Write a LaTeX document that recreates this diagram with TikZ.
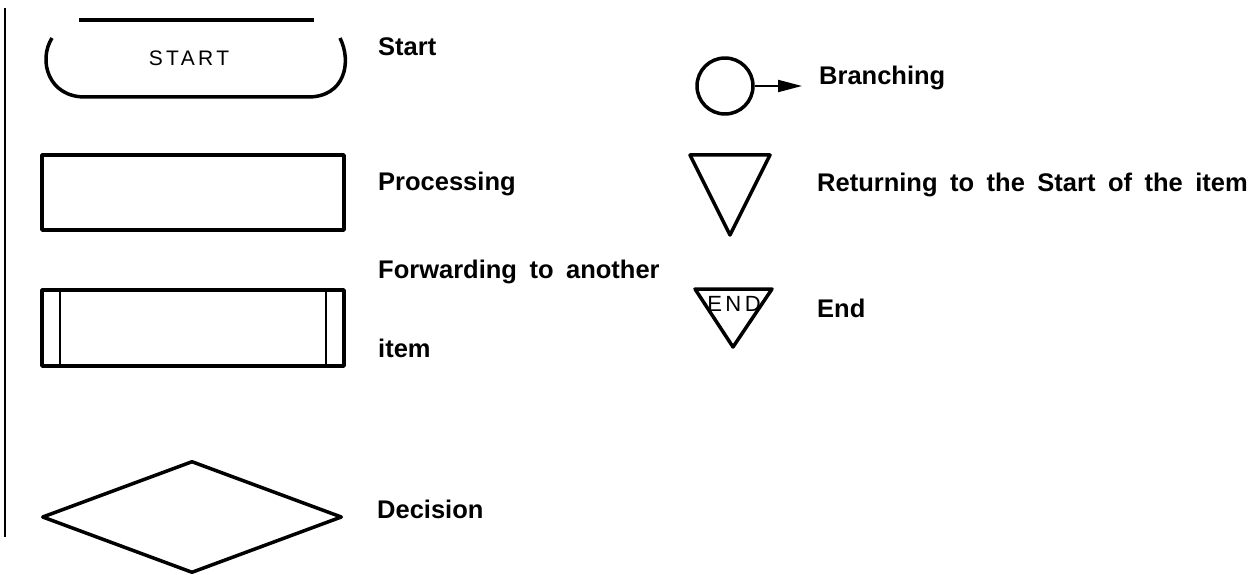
\documentclass[tikz,border=0pt]{standalone}
\usepackage{fontspec}
\setmainfont{Liberation Sans}
\newfontfamily\plotfont[LetterSpace=16]{Liberation Sans}
\usepackage{tikz}
\usetikzlibrary{
  arrows.meta,
  positioning,
  calc,
  shapes.geometric,
}
\newcommand\legendfont{\fontsize{25.5}{30}\selectfont\bfseries\spaceskip 12.5pt plus 2pt\relax}
\tikzset{
  >=Triangle,
  every node/.append style={text=black},
  legend/.style={font=\legendfont, anchor=base west, inner sep=0pt},
  symbolline/.style={draw=black, line width=3.5pt, line join=round},
  boxsym/.style={symbolline, rectangle, minimum width=302pt, minimum height=75pt, inner sep=0pt},
  platetext/.style={font=\plotfont\fontsize{21}{22}\selectfont, anchor=base, inner sep=0pt},
}

\begin{document}
\begin{tikzpicture}[x=1pt,y=-1pt]
  \useasboundingbox (0,0) rectangle (1253,575);

  % left rule
  \draw[line width=2.5pt] (5,8) -- (5,537);

  % START terminal
  \draw[line width=4.5pt] (79,20) -- (314,20);
  \node[platetext] (starttxt) at (189,66) {START};
  \draw[symbolline] (52,38) .. controls (38,60) and (48,97) .. (85,97)
    -- (308,97) .. controls (345,97) and (352,62) .. (340,38);
  \node[legend] (startlab) at (378,56) {Start};

  % processing
  \node[boxsym] (proc) at (193,192.5) {};
  \node[legend] (proclab) at (378,190) {Processing};

  % forwarding to another item
  \node[boxsym, minimum height=76pt] (fwd) at (193,328) {};
  \draw[line width=2pt] ($(fwd.north west)+(20,0)$) -- ($(fwd.south west)+(20,0)$);
  \draw[line width=2pt] ($(fwd.north east)+(-20,0)$) -- ($(fwd.south east)+(-20,0)$);
  \node[legend] (fwdlab) at (378,278) {Forwarding to another};
  \node[legend] (fwdlab2) at (378,357) {item};

  % decision
  \node[symbolline, diamond, aspect=2.68, minimum width=300pt, minimum height=112pt, inner sep=0pt] (dec) at (192,517) {};
  \node[legend] (declab) at (377,518) {Decision};

  % branching
  \node[symbolline, circle, minimum size=56pt, inner sep=0pt] (branch) at (725,86) {};
  \coordinate (branchtip) at (802,86);
  \draw[line width=2pt, -{Triangle[length=24pt, width=12pt]}] (branch.east) -- (branchtip);
  \node[legend] (branchlab) at (819,85) {Branching};

  % returning to the start
  \draw[symbolline] (690,155) -- (770,155) -- (730,235) -- cycle;
  \node[legend] (retlab) at (817,191) {Returning to the Start of the item};

  % end
  \draw[symbolline] (695,289) -- (772,289) -- (733,347) -- cycle;
  \node[platetext, font=\plotfont\fontsize{22}{24}\selectfont] (endtxt) at (734,311) {END};
  \node[legend] (endlab) at (817,317) {End};
\end{tikzpicture}
\end{document}
